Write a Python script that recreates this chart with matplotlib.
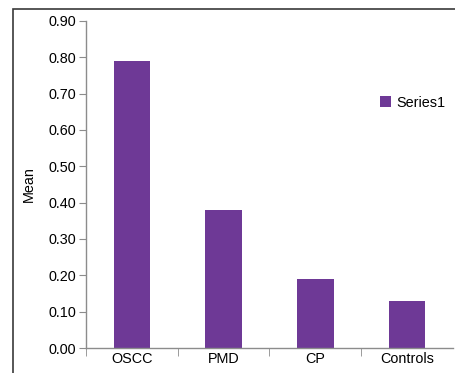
import matplotlib
matplotlib.use("Agg")
import matplotlib.pyplot as plt
from matplotlib.patches import Rectangle
from matplotlib.ticker import FixedLocator, NullFormatter

plt.rcParams["font.family"] = ["Liberation Sans", "DejaVu Sans"]

groups = ["OSCC", "PMD", "CP", "Controls"]
means = [0.79, 0.38, 0.19, 0.13]
series_name = "Series1"
yticks = [0.0, 0.1, 0.2, 0.3, 0.4, 0.5, 0.6, 0.7, 0.8, 0.9]

BAR = "#6E3996"
AXC = "#8c8c8c"
FS = 10.4

fig = plt.figure(figsize=(4.56, 3.73), dpi=100)
# outer chart frame (runs off right and bottom)
fig.patches.append(Rectangle((13.5 / 456, -0.05), 1.2, 1 - 8.5 / 373 + 0.05,
                             transform=fig.transFigure, fill=False,
                             edgecolor="#3a3a3a", lw=1.2))

ax = fig.add_axes([86 / 456, 1 - 348 / 373, (453 - 86) / 456, (348 - 21) / 373])
x = range(len(groups))
ax.bar(x, means, width=0.4, color=BAR, label=series_name, zorder=2)

ax.set_xlim(-0.5, 3.5)
ax.set_ylim(0, 0.9)
ax.set_yticks(yticks)
ax.set_yticklabels([f"{v:.2f}" for v in yticks])
ax.set_xticks(list(x))
ax.set_xticklabels(groups)
ax.xaxis.set_minor_locator(FixedLocator([-0.5, 0.5, 1.5, 2.5]))
ax.xaxis.set_minor_formatter(NullFormatter())
ax.tick_params(axis="x", which="major", length=0, pad=3, labelsize=FS)
ax.tick_params(axis="x", which="minor", length=6, color=AXC, direction="out")
ax.tick_params(axis="y", length=5, color=AXC, direction="out", pad=2, labelsize=FS)

for s in ("top", "right"):
    ax.spines[s].set_visible(False)
for s in ("left", "bottom"):
    ax.spines[s].set_color(AXC)
    ax.spines[s].set_linewidth(1.0)

ax.set_ylabel("Mean", fontsize=FS, labelpad=9)
ax.legend(loc="center", bbox_to_anchor=(0.89, 0.75), frameon=False,
          fontsize=FS, handlelength=0.75, handleheight=0.75, handletextpad=0.4)

fig.savefig("out.png", dpi=100)
